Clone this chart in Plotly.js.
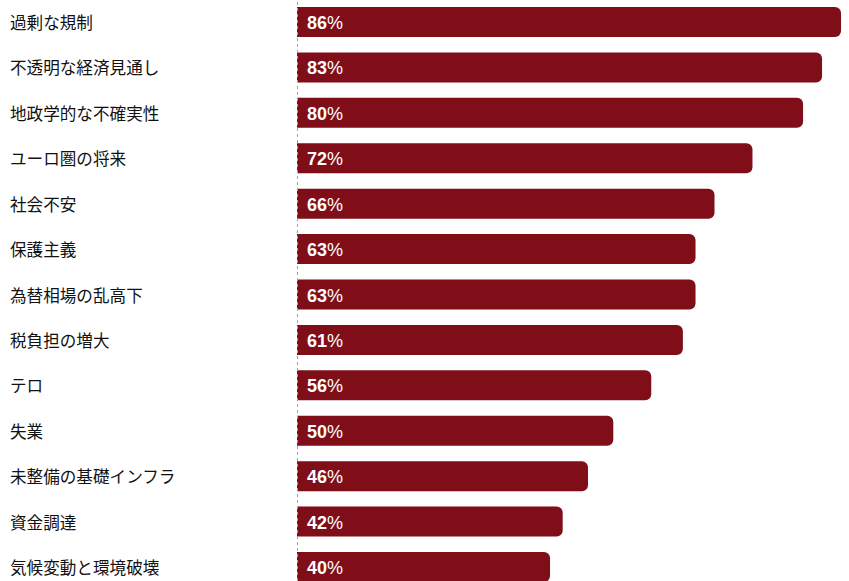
<!DOCTYPE html>
<html>
<head>
<meta charset="utf-8">
<script src="https://cdn.plot.ly/plotly-3.0.1.min.js"></script>
<style>html,body{margin:0;padding:0;background:#fff;}#chart{width:849px;height:581px;}</style>
</head>
<body>
<div id="chart"></div>
<script>
const categories = ["過剰な規制","不透明な経済見通し","地政学的な不確実性","ユーロ圏の将来","社会不安","保護主義","為替相場の乱高下","税負担の増大","テロ","失業","未整備の基礎インフラ","資金調達","気候変動と環境破壊"];
const values = [86,83,80,72,66,63,63,61,56,50,46,42,40];

const idx = categories.map((c,i)=>i);
const annotations = [];
categories.forEach((c,i)=>{
  annotations.push({xref:'paper', x:-0.5235, xanchor:'left', yref:'y', y:i, yanchor:'middle', text:c, showarrow:false,
    font:{family:'Noto Sans CJK JP, sans-serif', size:16.6, color:'#111'}});
  annotations.push({xref:'x', x:0, xanchor:'left', xshift:8, yshift:-1, yref:'y', y:i, yanchor:'middle', text:'<b>'+values[i]+'</b><span style="font-weight:normal">%</span>', showarrow:false,
    font:{family:'Liberation Sans, Arial, sans-serif', size:18, color:'#fff'}});
});

Plotly.newPlot('chart', [{
  type:'bar', orientation:'h', x:values, y:idx, width:0.66,
  marker:{color:'#7f0e18', cornerradius:6}, hoverinfo:'none'
}], {
  width:849, height:581,
  margin:{l:297, r:0, t:0, b:0},
  paper_bgcolor:'#fff', plot_bgcolor:'#fff',
  xaxis:{range:[0,87.26], visible:false, fixedrange:true},
  yaxis:{range:[12.308,-0.4846], visible:false, fixedrange:true},
  showlegend:false,
  annotations:annotations,
  shapes:[{type:'line', xref:'x', x0:0, x1:0, yref:'paper', y0:0, y1:1, layer:'above',
    line:{color:'#a8a29c', width:2, dash:'dot'}}]
}, {staticPlot:true});
</script>
</body>
</html>
